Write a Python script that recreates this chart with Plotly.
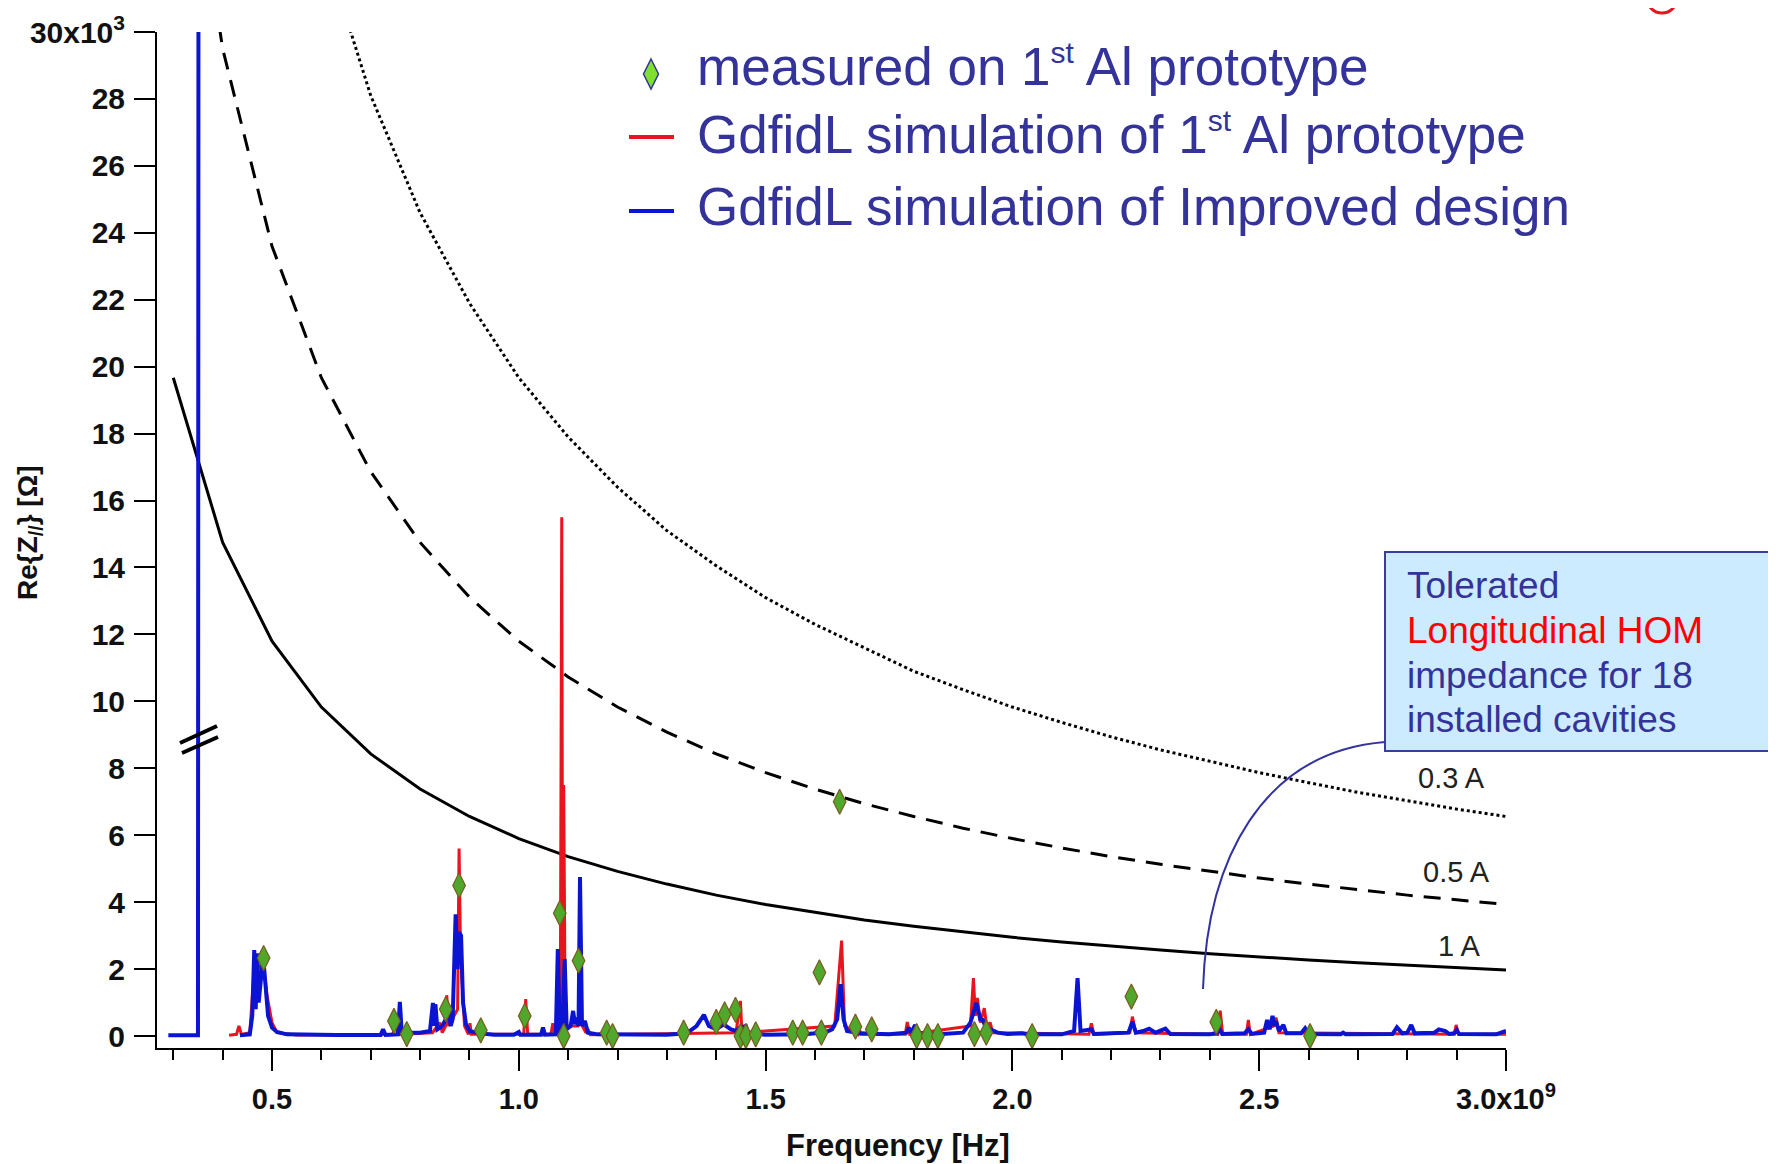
import plotly.graph_objects as go

# ---------------- data (frequency in GHz, impedance in kOhm) ----------------
thr_f = [0.3, 0.4, 0.5, 0.6, 0.7, 0.8, 0.9, 1.0, 1.1, 1.2, 1.3, 1.4, 1.5, 1.6, 1.7,
         1.8, 1.9, 2.0, 2.1, 2.2, 2.3, 2.4, 2.5, 2.6, 2.7, 2.8, 2.9, 3.0]
thr_1A = [19.67, 14.75, 11.8, 9.83, 8.43, 7.38, 6.56, 5.9, 5.36, 4.92, 4.54, 4.21, 3.93, 3.69,
          3.47, 3.28, 3.11, 2.95, 2.81, 2.68, 2.57, 2.46, 2.36, 2.27, 2.19, 2.11, 2.03, 1.97]
thr_05A = [39.3, 29.5, 23.6, 19.67, 16.86, 14.75, 13.11, 11.8, 10.73, 9.83, 9.08, 8.43, 7.87, 7.38,
           6.94, 6.56, 6.21, 5.9, 5.62, 5.36, 5.13, 4.92, 4.72, 4.54, 4.37, 4.21, 4.07, 3.93]
thr_03A_f = [0.6, 0.7, 0.8, 0.9, 1.0, 1.1, 1.2, 1.3, 1.4, 1.5, 1.6, 1.7, 1.8, 1.9, 2.0,
             2.1, 2.2, 2.3, 2.4, 2.5, 2.6, 2.7, 2.8, 2.9, 3.0]
thr_03A = [32.8, 28.1, 24.6, 21.9, 19.67, 17.9, 16.4, 15.1, 14.05, 13.1, 12.3, 11.6, 10.9, 10.35,
           9.83, 9.37, 8.94, 8.55, 8.2, 7.87, 7.57, 7.28, 7.03, 6.78, 6.56]

red_f = [0.413, 0.428, 0.433, 0.438, 0.455, 0.465, 0.470, 0.482, 0.49, 0.50, 0.51, 0.55,
         0.745, 0.750, 0.755, 0.825, 0.84, 0.845, 0.852, 0.854, 0.858, 0.876, 0.879, 0.882,
         0.89, 0.898, 0.901, 0.904, 1.010, 1.014, 1.018, 1.065, 1.069, 1.073, 1.084, 1.087,
         1.089, 1.091, 1.094, 1.12, 1.125, 1.136, 1.14, 1.145, 1.44, 1.449, 1.452, 1.64,
         1.654, 1.66, 1.687, 1.69, 1.693, 1.783, 1.787, 1.792, 1.915, 1.921, 1.925, 1.929,
         1.935, 1.943, 1.948, 1.955, 1.96, 2.155, 2.16, 2.165, 2.238, 2.243, 2.25, 2.416,
         2.421, 2.426, 2.474, 2.478, 2.482, 2.53, 2.534, 2.54, 2.895, 2.899, 2.904, 3.0]
red_z = [0.02, 0.05, 0.3, 0.05, 0.1, 2.2, 2.0, 2.2, 1.2, 0.4, 0.1, 0.03,
         0.05, 0.45, 0.05, 0.1, 0.4, 0.1, 0.3, 1.22, 0.3, 0.8, 5.6, 2.5,
         0.3, 0.05, 0.38, 0.05, 0.05, 1.1, 0.05, 0.05, 0.38, 0.05, 0.1, 15.5,
         0.3, 7.5, 0.3, 0.3, 0.4, 0.1, 0.2, 0.04, 0.1, 1.05, 0.1, 0.3,
         2.85, 0.3, 0.05, 0.2, 0.05, 0.05, 0.42, 0.05, 0.3, 1.73, 0.6, 1.14,
         0.4, 0.83, 0.3, 0.4, 0.1, 0.05, 0.38, 0.05, 0.1, 0.58, 0.1, 0.05,
         0.76, 0.05, 0.05, 0.48, 0.05, 0.3, 0.55, 0.1, 0.05, 0.33, 0.05, 0.05]

blue_f = [0.29, 0.350, 0.351, None,
          0.435, 0.455, 0.460, 0.464, 0.467, 0.470, 0.473, 0.477, 0.482, 0.487, 0.492, 0.50,
          0.51, 0.53, 0.60, 0.62, 0.63, 0.72, 0.725, 0.73, 0.755, 0.759, 0.763, 0.78, 0.80,
          0.82, 0.826, 0.829, 0.831, 0.835, 0.845, 0.852, 0.857, 0.862, 0.866, 0.872, 0.876,
          0.879, 0.883, 0.887, 0.893, 0.90, 0.92, 0.95, 0.99, 1.0, 1.003, 1.030, 1.045, 1.049,
          1.053, 1.075, 1.079, 1.083, 1.086, 1.088, 1.093, 1.097, 1.105, 1.11, 1.114, 1.117,
          1.121, 1.124, 1.128, 1.134, 1.14, 1.16, 1.20, 1.30, 1.34, 1.36, 1.375, 1.385, 1.40,
          1.415, 1.43, 1.44, 1.448, 1.46, 1.465, 1.50, 1.58, 1.60, 1.605, 1.62, 1.635, 1.645,
          1.652, 1.658, 1.665, 1.69, 1.75, 1.785, 1.79, 1.795, 1.803, 1.808, 1.85, 1.90,
          1.915, 1.927, 1.935, 1.94, 1.945, 1.955, 1.97, 1.99, 2.02, 2.03, 2.10, 2.125, 2.132,
          2.138, 2.16, 2.165, 2.20, 2.235, 2.243, 2.25, 2.265, 2.277, 2.29, 2.31, 2.32, 2.40,
          2.415, 2.42, 2.425, 2.47, 2.478, 2.485, 2.51, 2.516, 2.521, 2.527, 2.531, 2.534,
          2.54, 2.549, 2.555, 2.585, 2.593, 2.60, 2.665, 2.67, 2.675, 2.77, 2.779, 2.79, 2.80,
          2.808, 2.815, 2.855, 2.864, 2.877, 2.885, 2.895, 2.90, 2.905, 2.98, 3.0]
blue_z = [0.02, 0.02, 31.0, None,
          0.02, 0.05, 0.6, 2.57, 0.8, 2.47, 1.0, 1.6, 2.37, 1.5, 0.6, 0.25,
          0.12, 0.05, 0.03, 0.05, 0.03, 0.03, 0.2, 0.03, 0.05, 1.02, 0.08, 0.1, 0.1,
          0.15, 0.99, 0.3, 0.95, 0.2, 0.3, 0.5, 0.9, 0.3, 0.5, 3.64, 2.0,
          3.1, 3.0, 1.0, 0.35, 0.15, 0.08, 0.04, 0.04, 0.12, 0.04, 0.04, 0.04, 0.25,
          0.04, 0.05, 2.6, 0.1, 0.3, 0.1, 2.3, 0.2, 0.3, 0.75, 0.35, 0.55,
          0.3, 4.75, 0.3, 0.45, 0.1, 0.05, 0.04, 0.04, 0.08, 0.3, 0.63, 0.3, 0.2,
          0.35, 0.2, 0.15, 0.25, 0.3, 0.08, 0.04, 0.05, 0.08, 0.15, 0.1, 0.2, 0.5,
          1.55, 0.5, 0.15, 0.08, 0.05, 0.1, 0.25, 0.1, 0.33, 0.08, 0.05, 0.1,
          0.4, 0.99, 0.5, 0.48, 0.3, 0.2, 0.1, 0.06, 0.08, 0.05, 0.05, 0.15, 1.73,
          0.15, 0.2, 0.06, 0.08, 0.1, 0.42, 0.1, 0.15, 0.22, 0.1, 0.22, 0.06, 0.05,
          0.1, 0.2, 0.06, 0.08, 0.2, 0.06, 0.1, 0.48, 0.2, 0.6, 0.3, 0.45,
          0.15, 0.33, 0.08, 0.08, 0.23, 0.06, 0.05, 0.1, 0.05, 0.06, 0.26, 0.08, 0.1,
          0.33, 0.08, 0.1, 0.2, 0.15, 0.06, 0.08, 0.18, 0.06, 0.05, 0.15]

meas_f = [0.483, 0.747, 0.773, 0.852, 0.879, 0.923, 1.012, 1.083, 1.091, 1.121, 1.178, 1.19,
          1.334, 1.40, 1.417, 1.439, 1.449, 1.46, 1.48, 1.555, 1.575, 1.609, 1.613, 1.65,
          1.682, 1.715, 1.806, 1.828, 1.849, 1.923, 1.947, 2.04, 2.241, 2.413, 2.603]
meas_z = [2.33, 0.45, 0.06, 0.8, 4.5, 0.17, 0.6, 3.67, 0.0, 2.25, 0.1, 0.0,
          0.1, 0.42, 0.65, 0.78, 0.0, 0.0, 0.05, 0.1, 0.1, 1.9, 0.1, 7.0,
          0.28, 0.2, 0.0, 0.0, 0.0, 0.06, 0.1, 0.0, 1.18, 0.42, 0.0]

x_tickvals = [0.5, 1.0, 1.5, 2.0, 2.5, 3.0]
x_ticktext = ["0.5", "1.0", "1.5", "2.0", "2.5", "3.0x10<sup>9</sup>"]
y_tickvals = list(range(0, 31, 2))
y_ticktext = [str(v) for v in range(0, 29, 2)] + ["30x10<sup>3</sup>"]

# ---------------- layout geometry (page pixels; page body has an 8px margin) ----------------
PAGE_W, PAGE_H = 1776, 1164
OFF = 8
W, H = PAGE_W - OFF, PAGE_H - OFF
L, R, T, B = 157, 1506, 32, 1048


def px(x):
    return (x - L) / (R - L)


def py(y):
    return (B - y) / (B - T)


FONT = "Liberation Sans, Arial, sans-serif"
NAVY = "#333399"
ST = '<sup><span style="font-size:30px">st</span></sup>'

fig = go.Figure()

fig.add_trace(go.Scatter(x=thr_03A_f, y=thr_03A, mode="lines",
                         line=dict(color="black", width=3, dash="dot"), hoverinfo="skip"))
fig.add_trace(go.Scatter(x=thr_f, y=thr_05A, mode="lines",
                         line=dict(color="black", width=3, dash="17px,11px"), hoverinfo="skip"))
fig.add_trace(go.Scatter(x=thr_f, y=thr_1A, mode="lines",
                         line=dict(color="black", width=3), hoverinfo="skip"))
fig.add_trace(go.Scatter(x=red_f, y=red_z, mode="lines",
                         line=dict(color="#E8141E", width=3)))
fig.add_trace(go.Scatter(x=blue_f, y=blue_z, mode="lines", connectgaps=False,
                         line=dict(color="#0A14D2", width=4)))
fig.add_trace(go.Scatter(x=meas_f, y=meas_z, mode="markers", cliponaxis=False,
                         marker=dict(symbol="diamond-tall", size=18, color="#4FA82C",
                                     line=dict(color="#7A5A1E", width=1.2))))

shapes = []
# axis break marks
shapes.append(dict(type="line", xref="paper", yref="paper", x0=px(180), y0=py(743), x1=px(217), y1=py(726),
                   line=dict(color="black", width=4)))
shapes.append(dict(type="line", xref="paper", yref="paper", x0=px(182), y0=py(753), x1=px(218), y1=py(737),
                   line=dict(color="black", width=4)))
# legend keys
shapes.append(dict(type="path", xref="paper", yref="paper",
                   path=f"M {px(651)},{py(59)} L {px(658.5)},{py(74)} L {px(651)},{py(89)} L {px(643.5)},{py(74)} Z",
                   fillcolor="#80E030", line=dict(color=NAVY, width=1.5)))
shapes.append(dict(type="line", xref="paper", yref="paper", x0=px(629), y0=py(137), x1=px(674), y1=py(137),
                   line=dict(color="#E8141E", width=4)))
shapes.append(dict(type="line", xref="paper", yref="paper", x0=px(629), y0=py(211), x1=px(674), y1=py(211),
                   line=dict(color="#0A14D2", width=4)))
# callout box and connector
shapes.append(dict(type="rect", xref="paper", yref="paper", x0=px(1385), y0=py(751), x1=px(1800), y1=py(552),
                   fillcolor="#CCEBFF", line=dict(color="#3C3CA0", width=2)))
shapes.append(dict(type="path", xref="paper", yref="paper",
                   path=(f"M {px(1203)},{py(989)} C {px(1207)},{py(860)} {px(1262)},{py(752)} "
                         f"{px(1385)},{py(742)}"),
                   line=dict(color="#3333A0", width=2)))
# red ring at the top-right corner
shapes.append(dict(type="circle", xref="paper", yref="paper", x0=px(1647), y0=py(13), x1=px(1677), y1=py(-17),
                   line=dict(color="#E8141E", width=3)))

annotations = []
leg_font = dict(family=FONT, size=53, color=NAVY)
for txt, yy in [(f"measured on 1{ST} Al prototype", 66),
                (f"GdfidL simulation of 1{ST} Al prototype", 134),
                ("GdfidL simulation of Improved design", 206)]:
    annotations.append(dict(text=txt, xref="paper", yref="paper", x=px(695), y=py(yy),
                            xanchor="left", yanchor="middle", showarrow=False, font=leg_font))

for txt, yy, col in [("Tolerated", 586, NAVY), ("Longitudinal HOM", 630, "#FF0000"),
                     ("impedance for 18", 675, NAVY), ("installed cavities", 719, NAVY)]:
    annotations.append(dict(text=txt, xref="paper", yref="paper", x=px(1405), y=py(yy),
                            xanchor="left", yanchor="middle", showarrow=False,
                            font=dict(family=FONT, size=37, color=col)))

for txt, xx, yy in [("0.3 A", 1451, 778), ("0.5 A", 1456, 872), ("1 A", 1459, 946)]:
    annotations.append(dict(text=txt, xref="paper", yref="paper", x=px(xx), y=py(yy),
                            xanchor="center", yanchor="middle", showarrow=False,
                            font=dict(family=FONT, size=29, color="#222222")))

annotations.append(dict(text="Frequency [Hz]", xref="paper", yref="paper", x=px(898), y=py(1145),
                        xanchor="center", yanchor="middle", showarrow=False,
                        font=dict(family=FONT, size=31, color="#111111", weight="bold")))
annotations.append(dict(text="Re{Z<sub>//</sub>} [Ω]", xref="paper", yref="paper", x=px(29), y=py(533),
                        xanchor="center", yanchor="middle", showarrow=False, textangle=-90,
                        font=dict(family=FONT, size=28, color="#111111", weight="bold")))

fig.update_layout(
    width=W, height=H,
    margin=dict(l=L - OFF, r=PAGE_W - R, t=T - OFF, b=PAGE_H - B, pad=0, autoexpand=False),
    paper_bgcolor="white", plot_bgcolor="white",
    showlegend=False,
    shapes=shapes, annotations=annotations,
    xaxis=dict(range=[0.267, 3.0], showgrid=False, zeroline=False, showline=True, automargin=False,
               linecolor="black", linewidth=2, ticks="outside", ticklen=21, tickwidth=2,
               tickcolor="black", tickvals=x_tickvals, ticktext=x_ticktext,
               tickfont=dict(family=FONT, size=29, color="#111111", weight="bold"),
               ticklabelstandoff=3,
               minor=dict(tick0=0, dtick=0.1, ticks="outside", ticklen=10, tickwidth=2,
                          tickcolor="black", showgrid=False)),
    yaxis=dict(range=[-0.358, 30], showgrid=False, zeroline=False, showline=True, automargin=False,
               linecolor="black", linewidth=2, ticks="outside", ticklen=21, tickwidth=2,
               tickcolor="black", tickvals=y_tickvals, ticktext=y_ticktext,
               tickfont=dict(family=FONT, size=30, color="#111111", weight="bold"),
               ticklabelstandoff=3),
)

fig.write_html("out.html")
